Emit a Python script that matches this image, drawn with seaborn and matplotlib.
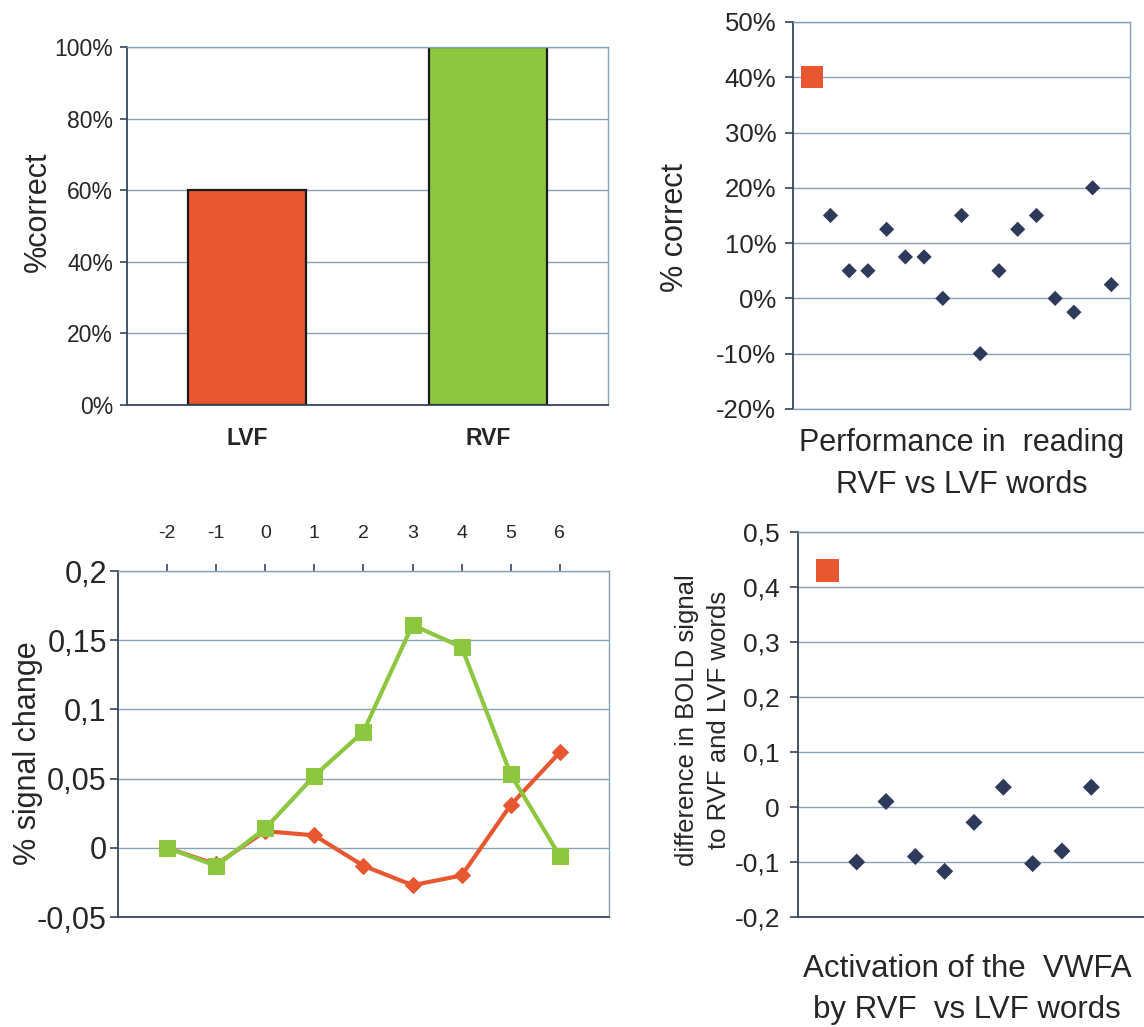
# four panels: behaviour + BOLD, RVF vs LVF words
import numpy as np
import pandas as pd
import seaborn as sns
import matplotlib.pyplot as plt
from matplotlib.ticker import FuncFormatter, FixedLocator

sns.set_style("white")
plt.rcParams['font.family'] = ['Liberation Sans', 'DejaVu Sans']

# -----------------------------
# DATA
# -----------------------------
# panel A: % correct per visual field
fields = ['LVF', 'RVF']
pct_correct = [60, 100]

# panel B: RVF - LVF reading performance, patient first then controls
perf_subject = list(range(1, 18))
perf_diff = [40, 15, 5, 5, 12.5, 7.5, 7.5, 0, 15, -10, 5, 12.5, 15, 0, -2.5, 20, 2.5]
perf_group = ['patient'] + ['control'] * 16

# panel C: time course of signal change
time_pts = [-2, -1, 0, 1, 2, 3, 4, 5, 6]
rvf_signal = [0.0, -0.013, 0.014, 0.052, 0.084, 0.161, 0.145, 0.053, -0.006]
lvf_signal = [0.0, -0.012, 0.012, 0.009, -0.013, -0.027, -0.020, 0.031, 0.069]

# panel D: VWFA activation difference
vwfa_subject = list(range(1, 11))
vwfa_diff = [0.43, -0.10, 0.01, -0.09, -0.117, -0.028, 0.036, -0.103, -0.08, 0.036]
vwfa_group = ['patient'] + ['control'] * 9

# colours
ORANGE = '#E8572F'
GREEN = '#8DC63F'
NAVY = '#2E3A5C'
GRID = '#86A2B8'
SPINE = '#34465A'

comma = FuncFormatter(lambda v, p: f"{v:g}".replace('.', ','))
pct = FuncFormatter(lambda v, p: f"{v:.0f}%")

fig = plt.figure(figsize=(11.44, 10.27), dpi=100)


def style_axes(ax, dark=('left',)):
    for side, sp in ax.spines.items():
        sp.set_visible(True)
        sp.set_color(SPINE if side in dark else GRID)
        sp.set_linewidth(1.3 if side in dark else 1.0)
    ax.yaxis.grid(True, color=GRID, linewidth=1.0)
    ax.xaxis.grid(False)
    ax.set_axisbelow(True)


# -----------------------------
# A: bar chart
# -----------------------------
ax1 = fig.add_axes([0.111, 0.6057, 0.4205, 0.3486])
df_a = pd.DataFrame({'field': fields, 'pct': pct_correct})
sns.barplot(data=df_a, x='field', y='pct', hue='field', palette=[ORANGE, GREEN],
            saturation=1, width=0.49, edgecolor='#1a1a1a', linewidth=1.6,
            legend=False, ax=ax1)
ax1.set_xlim(-0.5, 1.5)
ax1.set_ylim(0, 100)
ax1.set_yticks([0, 20, 40, 60, 80, 100])
ax1.yaxis.set_major_formatter(pct)
ax1.xaxis.set_minor_locator(FixedLocator([-0.5, 0.5, 1.5]))
ax1.tick_params(axis='x', which='major', length=0, pad=16, labelsize=16.5)
for lbl in ax1.get_xticklabels():
    lbl.set_fontweight('bold')
ax1.tick_params(axis='x', which='minor', length=5, width=1.2, color=SPINE, direction='out')
ax1.tick_params(axis='y', length=5, width=1.2, color=SPINE, pad=5, labelsize=16.5, left=True)
ax1.set_xlabel('')
ax1.set_ylabel('%correct', fontsize=22)
ax1.yaxis.set_label_coords(-0.154, 0.54)
style_axes(ax1, dark=('left', 'bottom'))

# -----------------------------
# B: reading performance scatter
# -----------------------------
ax2 = fig.add_axes([0.6932, 0.6018, 0.2946, 0.3768])
df_b = pd.DataFrame({'subject': perf_subject, 'diff': perf_diff, 'group': perf_group})
sns.scatterplot(data=df_b, x='subject', y='diff', hue='group', style='group', size='group',
                palette={'patient': ORANGE, 'control': NAVY},
                markers={'patient': 's', 'control': 'D'},
                sizes={'patient': 260, 'control': 60},
                linewidth=0, legend=False, ax=ax2)
ax2.set_xlim(0, 18)
ax2.set_ylim(-20, 50)
ax2.set_yticks(range(-20, 51, 10))
ax2.yaxis.set_major_formatter(pct)
ax2.set_xticks([])
ax2.tick_params(axis='y', length=6, width=1.2, color=SPINE, pad=6, labelsize=18.5, left=True)
ax2.set_ylabel('% correct', fontsize=22)
ax2.yaxis.set_label_coords(-0.306, 0.468)
ax2.set_xlabel('Performance in  reading\nRVF vs LVF words', fontsize=22, linespacing=1.5)
ax2.xaxis.set_label_coords(0.5, -0.05)
style_axes(ax2, dark=('left',))

# -----------------------------
# C: time course
# -----------------------------
ax3 = fig.add_axes([0.1031, 0.1071, 0.4292, 0.3369])
df_c = pd.DataFrame({'time': time_pts, 'RVF': rvf_signal, 'LVF': lvf_signal})
sns.lineplot(data=df_c, x='time', y='LVF', color=ORANGE, marker='D', markersize=8,
             markeredgecolor=ORANGE, linewidth=3, ax=ax3)
sns.lineplot(data=df_c, x='time', y='RVF', color=GREEN, marker='s', markersize=11,
             markeredgecolor=GREEN, linewidth=3, ax=ax3)
ax3.set_xlim(-3, 7)
ax3.set_ylim(-0.05, 0.2)
ax3.set_yticks([-0.05, 0, 0.05, 0.1, 0.15, 0.2])
ax3.yaxis.set_major_formatter(comma)
ax3.set_xticks(time_pts)
ax3.xaxis.set_major_formatter(FuncFormatter(lambda v, p: f"{int(v)}"))
ax3.xaxis.tick_top()
ax3.tick_params(axis='x', length=5, width=1.2, color=SPINE, pad=16, labelsize=14, top=True)
ax3.tick_params(axis='y', length=6, width=1.2, color=SPINE, pad=2, labelsize=22, left=True)
ax3.set_xlabel('')
ax3.set_ylabel('% signal change', fontsize=22)
ax3.yaxis.set_label_coords(-0.152, 0.474)
style_axes(ax3, dark=('left', 'bottom'))

# -----------------------------
# D: VWFA activation scatter
# -----------------------------
ax4 = fig.add_axes([0.6976, 0.1071, 0.3076, 0.3749])
df_d = pd.DataFrame({'subject': vwfa_subject, 'diff': vwfa_diff, 'group': vwfa_group})
sns.scatterplot(data=df_d, x='subject', y='diff', hue='group', style='group', size='group',
                palette={'patient': ORANGE, 'control': NAVY},
                markers={'patient': 's', 'control': 'D'},
                sizes={'patient': 270, 'control': 75},
                linewidth=0, legend=False, ax=ax4)
ax4.set_xlim(0, 12)
ax4.set_ylim(-0.2, 0.5)
ax4.set_yticks([-0.2, -0.1, 0, 0.1, 0.2, 0.3, 0.4, 0.5])
ax4.yaxis.set_major_formatter(comma)
ax4.set_xticks([])
ax4.tick_params(axis='y', length=6, width=1.2, color=SPINE, pad=7, labelsize=19, left=True)
ax4.set_ylabel('difference in BOLD signal\nto RVF and LVF words', fontsize=18.5, linespacing=1.45)
ax4.yaxis.set_label_coords(-0.19, 0.512)
ax4.set_xlabel('Activation of the  VWFA\nby RVF  vs LVF words', fontsize=22.5, linespacing=1.48)
ax4.xaxis.set_label_coords(0.48, -0.095)
style_axes(ax4, dark=('left', 'bottom'))

fig.savefig('out.png', dpi=100)
